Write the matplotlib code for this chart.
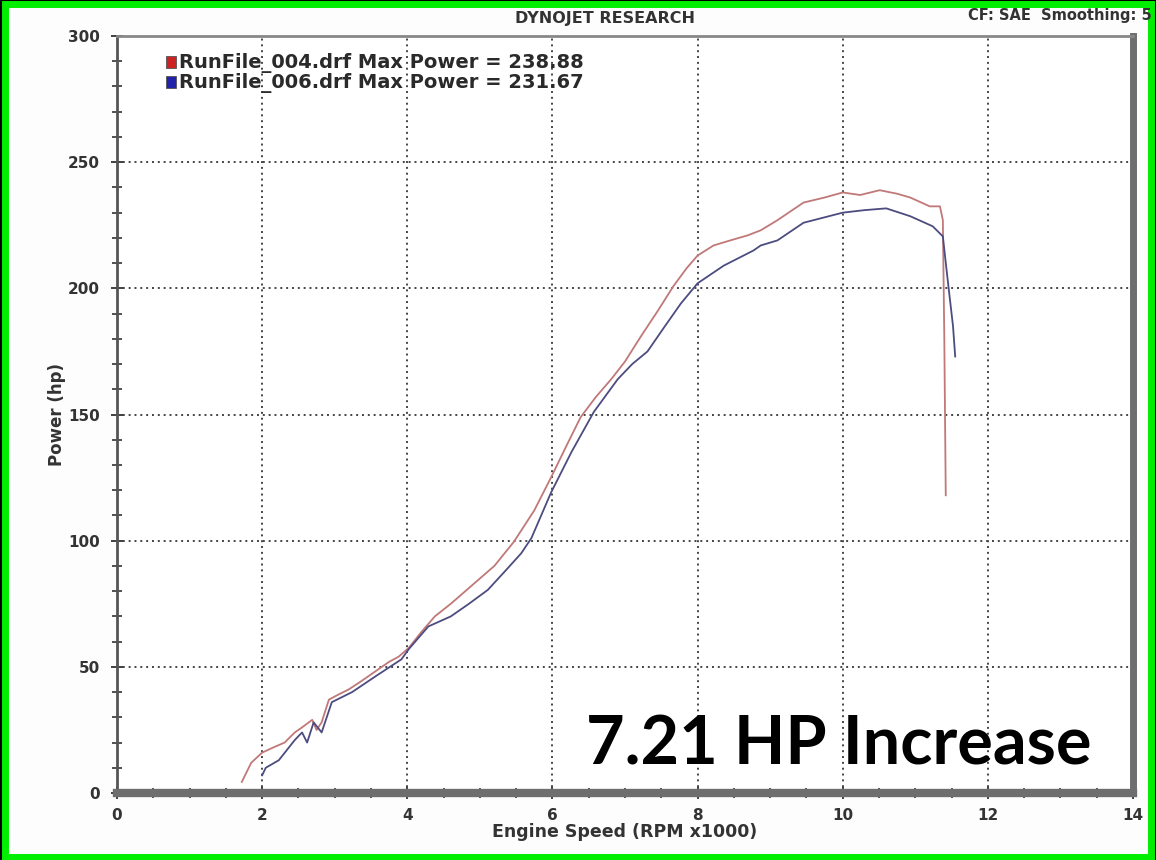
import matplotlib
matplotlib.use("Agg")
import matplotlib.pyplot as plt
from matplotlib.ticker import MultipleLocator
from matplotlib.patches import Rectangle

# RunFile_004 (red) - engine speed (RPM x1000) vs power (hp)
rpm_004 = [1.72, 1.85, 2.0, 2.15, 2.31, 2.45, 2.55, 2.69, 2.75, 2.82, 2.92, 3.05,
           3.19, 3.35, 3.55, 3.75, 3.88, 4.02, 4.2, 4.38, 4.6, 4.88, 5.2, 5.47,
           5.75, 5.98, 6.2, 6.39, 6.6, 6.81, 7.0, 7.22, 7.45, 7.67, 7.85, 8.0,
           8.22, 8.45, 8.69, 8.87, 9.1, 9.46, 9.75, 10.0, 10.24, 10.51, 10.75,
           10.93, 11.2, 11.34, 11.38, 11.40, 11.42]
hp_004 = [4.4, 12, 16, 18, 20, 24, 26, 29, 25, 28, 37, 39,
          41, 44, 48, 52, 54, 57.5, 64, 70, 75, 82, 90, 99.6,
          112, 125, 138, 149, 157, 164, 171, 181, 191, 201, 208, 213,
          217, 219, 221, 223, 227, 234, 236, 238, 237, 238.9, 237.5,
          236, 232.5, 232.5, 227, 180, 118]

# RunFile_006 (blue)
rpm_006 = [2.0, 2.05, 2.23, 2.45, 2.55, 2.62, 2.71, 2.82, 2.96, 3.24, 3.55, 3.92,
           4.02, 4.29, 4.6, 4.85, 5.11, 5.35, 5.57, 5.71, 5.98, 6.26, 6.57, 6.9,
           7.1, 7.31, 7.55, 7.77, 8.0, 8.36, 8.77, 8.87, 9.1, 9.46, 10.0, 10.3,
           10.6, 10.93, 11.24, 11.38, 11.44, 11.48, 11.52, 11.55]
hp_006 = [7, 10, 13, 21, 24, 20, 28, 24, 36, 40, 46, 53,
          57, 66, 70, 75, 80.5, 88, 95, 101, 119, 135, 151, 164,
          170, 175, 185, 194, 202, 209, 215, 217, 219, 226, 230, 231,
          231.7, 228.6, 224.6, 220.6, 205, 195, 185, 173]

legend_labels = ["RunFile_004.drf Max Power = 238.88",
                 "RunFile_006.drf Max Power = 231.67"]

fig = plt.figure(figsize=(11.56, 8.6), dpi=100, facecolor="#fdfdfd")

# outer black edge + green frame
fig.patches.append(Rectangle((0, 0), 1, 1, transform=fig.transFigure,
                             fill=False, edgecolor="black", linewidth=6))
fig.patches.append(Rectangle((0.0045, 0.0035), 0.991, 0.992, transform=fig.transFigure,
                             fill=False, edgecolor="#00ee00", linewidth=5))

ax = fig.add_axes([0.1012, 0.0779, 0.8789, 0.8802])
ax.set_facecolor("white")

ax.plot(rpm_004, hp_004, color="#c07878", lw=1.3)
ax.plot(rpm_006, hp_006, color="#4c4c80", lw=1.3)

ax.set_xlim(0, 14)
ax.set_ylim(0, 300)
ax.xaxis.set_major_locator(MultipleLocator(2))
ax.xaxis.set_minor_locator(MultipleLocator(0.5))
ax.yaxis.set_major_locator(MultipleLocator(50))
ax.yaxis.set_minor_locator(MultipleLocator(10))
ax.grid(True, which="major", color="#444444", linestyle=(0, (1, 2)), lw=1.4)

ax.tick_params(which="both", direction="inout", colors="#333333")
ax.tick_params(which="major", length=9, width=1.3, labelsize=11)
ax.tick_params(axis="x", which="major", pad=6)
ax.tick_params(axis="y", which="major", pad=8)
ax.tick_params(which="minor", length=7, width=1.2)
for lab in ax.get_xticklabels() + ax.get_yticklabels():
    lab.set_fontweight("bold")

ax.spines["left"].set_color("#555555")
ax.spines["left"].set_linewidth(2)
ax.spines["top"].set_color("#888888")
ax.spines["top"].set_linewidth(2)
ax.spines["bottom"].set_color("#6e6e6e")
ax.spines["bottom"].set_linewidth(6)
ax.spines["right"].set_color("#6e6e6e")
ax.spines["right"].set_linewidth(5)

ax.set_xlabel("Engine Speed (RPM x1000)", fontsize=12.5, fontweight="bold",
              color="#333333", labelpad=0)
ax.set_ylabel("Power (hp)", fontsize=12, fontweight="bold", color="#333333",
              labelpad=1)

fig.text(0.523, 0.978, "DYNOJET RESEARCH", ha="center", va="center",
         fontsize=11.5, fontweight="bold", color="#333333")
fig.text(0.996, 0.982, "CF: SAE  Smoothing: 5", ha="right", va="center",
         fontsize=10.5, fontweight="bold", color="#333333")

# legend drawn as the dyno software does: coloured squares + text
for i, (lab, col) in enumerate(zip(legend_labels, ["#cc2222", "#2222aa"])):
    y = 0.927 - i * 0.023
    fig.patches.append(Rectangle((0.1435, y - 0.006), 0.009, 0.014,
                                 transform=fig.transFigure, facecolor=col,
                                 edgecolor="#555555", lw=0.6))
    fig.text(0.155, y, lab, ha="left", va="center", fontsize=14,
             fontweight="bold", color="#2a2a2a")

fig.text(0.9445, 0.1105, "7.21 HP Increase", ha="right", va="baseline",
         fontsize=48, fontweight="bold", family="Lato", color="black")

fig.savefig("out.png", dpi=100, facecolor=fig.get_facecolor())
